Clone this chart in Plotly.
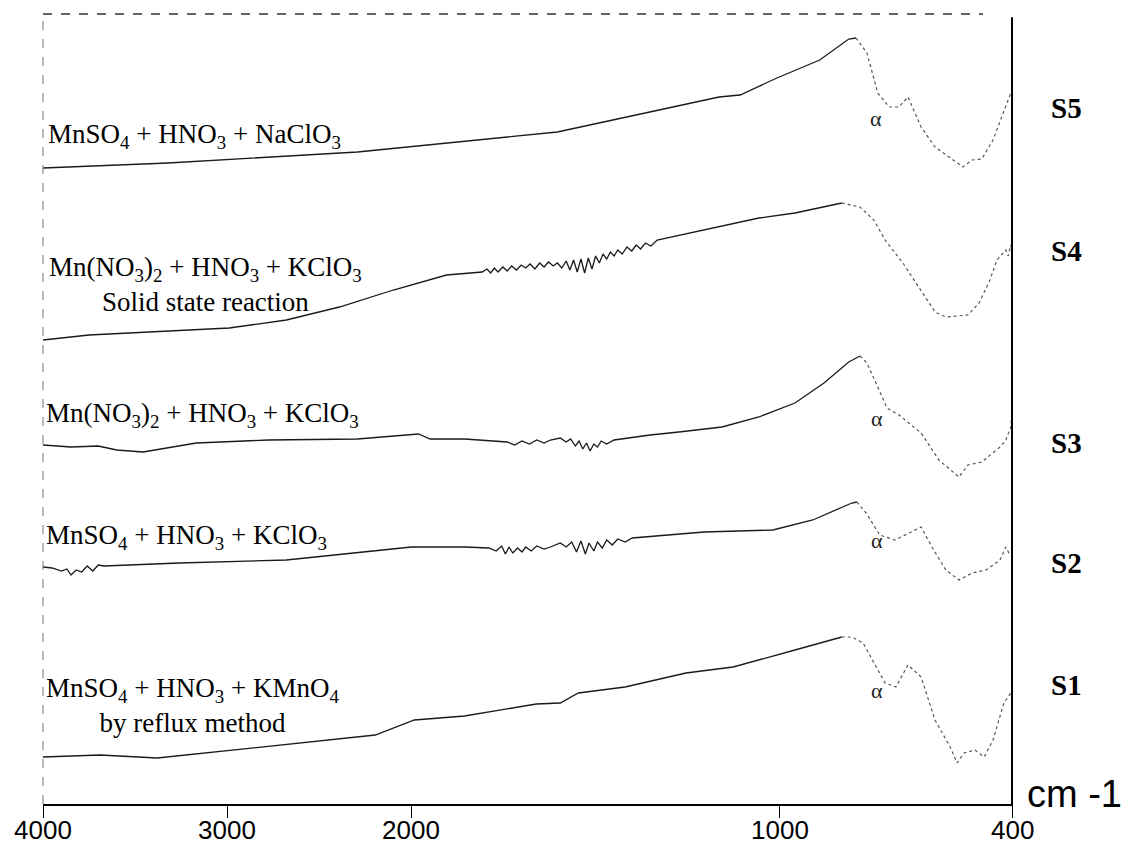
import numpy as np
import plotly.graph_objects as go

# ---- axis definition (wavenumber, cm-1); scale is expanded below 2000 cm-1 ----
tick_wavenumbers = [4000, 3000, 2000, 1000, 400]
tick_labels = ["4000", "3000", "2000", "1000", "400"]
axis_knots_w = [4000, 3000, 2000, 1000, 400]
axis_knots_u = [0.0, 1.0, 2.0, 4.0, 5.26]

# ---- spectra: wavenumber (cm-1) and relative transmittance (offset, a.u.) ----
s1_w = [4000, 3690, 3380, 3071, 2679, 2293, 2196, 1992, 1856, 1661, 1596, 1547, 1420, 1255, 1127,
        961, 840, 814, 785, 757, 728, 700, 669, 635, 599, 560, 542, 524, 496, 472, 449, 421, 403, 400]
s1_t = [47, 49, 46, 52, 59, 67, 69, 84, 88, 100, 101, 111, 117, 131, 137,
        154, 167, 167, 161, 141, 121, 117, 139, 127, 84, 57, 41, 51, 54, 47, 64, 101, 111, 114]

s2_w = [4000, 3950, 3900, 3870, 3848, 3820, 3790, 3760, 3730, 3700, 3668, 3261, 2679, 2293, 2000,
        1856, 1790, 1770, 1755, 1745, 1735, 1725, 1712, 1700, 1690, 1675, 1660, 1640, 1623, 1596,
        1580, 1565, 1552, 1540, 1528, 1518, 1505, 1495, 1482, 1470, 1455, 1440, 1420, 1401, 1304,
        1206, 1019, 915, 814, 801, 775, 742, 702, 635, 607, 571, 537, 503, 467, 431, 416, 408, 400]
s2_t = [237, 236, 233, 235, 229, 234, 232, 238, 233, 239, 238, 241, 244, 251, 257,
        257, 256, 253, 258, 250, 257, 251, 256, 252, 257, 253, 258, 255, 257, 261,
        257, 262, 252, 263, 250, 261, 253, 262, 256, 264, 259, 265, 262, 266, 269,
        272, 274, 284, 301, 302, 290, 269, 264, 277, 257, 234, 224, 231, 234, 244, 257, 251, 252]

s3_w = [4000, 3848, 3700, 3652, 3600, 3457, 3168, 2777, 2293, 1981, 1949, 1856, 1740, 1720, 1700,
        1680, 1660, 1640, 1623, 1596, 1580, 1568, 1555, 1545, 1535, 1525, 1515, 1505, 1495, 1485,
        1470, 1450, 1352, 1274, 1157, 1057, 961, 886, 822, 793, 775, 747, 723, 692, 669, 635, 589,
        537, 514, 478, 431, 416, 403, 400]
s3_t = [359, 357, 358, 356, 354, 352, 361, 364, 365, 370, 365, 365, 362, 359, 363,
        360, 364, 361, 364, 366, 362, 365, 358, 363, 355, 361, 353, 360, 357, 363,
        360, 364, 369, 372, 377, 387, 401, 421, 442, 448, 441, 417, 396, 389, 382, 371, 344,
        327, 339, 342, 357, 364, 377, 394]

s4_w = [4000, 3750, 2989, 2679, 2391, 2098, 1905, 1808, 1795, 1785, 1775, 1765, 1752, 1740, 1728,
        1715, 1702, 1690, 1678, 1665, 1652, 1640, 1628, 1615, 1604, 1592, 1580, 1570, 1560, 1550,
        1540, 1530, 1520, 1510, 1500, 1490, 1480, 1470, 1460, 1450, 1440, 1428, 1415, 1402, 1390,
        1378, 1365, 1350, 1333, 1206, 1057, 961, 840, 793, 757, 728, 682, 635, 599, 571, 514, 485,
        457, 439, 416, 410, 403, 400]
s4_t = [464, 469, 476, 484, 497, 514, 529, 532, 535, 531, 536, 532, 537, 533, 538,
        534, 539, 536, 540, 535, 541, 537, 542, 538, 541, 536, 543, 534, 544, 532,
        545, 531, 546, 535, 548, 541, 550, 545, 552, 548, 554, 550, 557, 553, 559,
        555, 561, 558, 564, 574, 586, 591, 601, 597, 584, 564, 541, 514, 492, 487, 489, 501,
        524, 544, 554, 548, 559, 552]

s5_w = [4000, 3321, 2293, 1604, 1165, 1108, 1008, 897, 822, 803, 775, 747, 718, 692, 669, 635,
        599, 527, 503, 478, 449, 410, 400]
s5_t = [636, 641, 652, 672, 707, 709, 726, 744, 765, 766, 751, 711, 697, 697, 707, 677,
        657, 637, 644, 645, 664, 704, 714]

series_names = ["S1", "S2", "S3", "S4", "S5"]
series_w = [s1_w, s2_w, s3_w, s4_w, s5_w]
series_t = [s1_t, s2_t, s3_t, s4_t, s5_t]

sample_labels = [
    "MnSO<sub>4</sub> + HNO<sub>3</sub> + KMnO<sub>4</sub><br>by reflux method",
    "MnSO<sub>4</sub> + HNO<sub>3</sub> + KClO<sub>3</sub>",
    "Mn(NO<sub>3</sub>)<sub>2</sub> + HNO<sub>3</sub> + KClO<sub>3</sub>",
    "Mn(NO<sub>3</sub>)<sub>2</sub> + HNO<sub>3</sub> + KClO<sub>3</sub><br>Solid state reaction",
    "MnSO<sub>4</sub> + HNO<sub>3</sub> + NaClO<sub>3</sub>",
]
alpha_w = [750, 750, 750, None, 752]
alpha_t = [114, 264, 386, None, 686]


def to_axis(w):
    w = np.asarray(w, dtype=float)
    return np.interp(-w, -np.asarray(axis_knots_w, float), np.asarray(axis_knots_u, float))


fig = go.Figure()
for name, w, t in zip(series_names, series_w, series_t):
    u = to_axis(w)
    t = np.asarray(t, float)
    k = int(np.argmax(t))
    fig.add_trace(go.Scatter(x=u[:k + 1], y=t[:k + 1], mode="lines", name=name,
                             line=dict(color="#1a1a1a", width=1.3), showlegend=False,
                             hoverinfo="skip"))
    fig.add_trace(go.Scatter(x=u[k:], y=t[k:], mode="lines", name=name,
                             line=dict(color="#555555", width=1.2, dash="dot"), showlegend=False,
                             hoverinfo="skip"))

PLOT_L, PLOT_R, PLOT_T, PLOT_B = 43, 1012, 14, 804
PW, PH = PLOT_R - PLOT_L, PLOT_B - PLOT_T


def px(x):
    return (x - PLOT_L) / PW


def py(y):
    return (PLOT_B - y) / PH


serif = "Liberation Serif, Times New Roman, serif"
sans = "Liberation Sans, Arial, sans-serif"
annotations = []

# sample labels (left text block)
label_pos = [  # (x_px, y_px, anchor)
    (192, 705, "center"),
    (44, 537, "left"),
    (44, 415, "left"),
    (205, 284, "center"),
    (46, 136, "left"),
]
for txt, (x, y, anc) in zip(sample_labels, label_pos):
    annotations.append(dict(x=px(x), y=py(y), xref="paper", yref="paper", text=txt,
                            showarrow=False, xanchor=anc, yanchor="middle", align="center",
                            font=dict(family=serif, size=27, color="black")))

# series names at right
name_y = [685, 563, 443, 251, 108]
for nm, y in zip(series_names, name_y):
    annotations.append(dict(x=px(1049), y=py(y), xref="paper", yref="paper",
                            text="<b>%s</b>" % nm, showarrow=False, xanchor="left",
                            yanchor="middle", font=dict(family=serif, size=29, color="black")))

# alpha markers
for aw, at in zip(alpha_w, alpha_t):
    if aw is None:
        continue
    annotations.append(dict(x=float(to_axis([aw])[0]), y=at, xref="x", yref="y", text="\u03b1",
                            showarrow=False, xanchor="center", yanchor="middle",
                            font=dict(family=serif, size=22, color="#222")))

# x tick labels (placed at the axis tick positions)
for tv, tl in zip(to_axis(tick_wavenumbers), tick_labels):
    annotations.append(dict(x=float(tv), y=py(830), xref="x", yref="paper", text=tl,
                            showarrow=False, xanchor="center", yanchor="middle",
                            font=dict(family=sans, size=26, color="black")))

# unit label
annotations.append(dict(x=px(1025), y=py(794), xref="paper", yref="paper", text="cm -1",
                        showarrow=False, xanchor="left", yanchor="middle",
                        font=dict(family=sans, size=38, color="black")))

shapes = [
    dict(type="line", xref="paper", yref="paper", x0=0, x1=0.97, y0=1, y1=1,
         line=dict(color="#333", width=1.5, dash="dash")),
    dict(type="line", xref="paper", yref="paper", x0=0, x1=0, y0=0, y1=1,
         line=dict(color="#777", width=1, dash="dash")),
    dict(type="line", xref="paper", yref="paper", x0=1, x1=1, y0=-0.003, y1=0.996,
         line=dict(color="black", width=2)),
]

fig.update_layout(
    width=1126, height=844,
    margin=dict(l=PLOT_L, r=1126 - PLOT_R, t=PLOT_T, b=844 - PLOT_B, autoexpand=False),
    paper_bgcolor="white", plot_bgcolor="white",
    xaxis=dict(range=[0, axis_knots_u[-1]], tickvals=list(to_axis(tick_wavenumbers)),
               showticklabels=False, ticks="outside", ticklen=12, tickwidth=1, tickcolor="black",
               showline=True, linecolor="black", linewidth=1.5, showgrid=False, zeroline=False,
               automargin=False),
    yaxis=dict(range=[0, PH], visible=False, showgrid=False, zeroline=False, automargin=False),
    annotations=annotations, shapes=shapes,
)

fig.write_html("out.html")
